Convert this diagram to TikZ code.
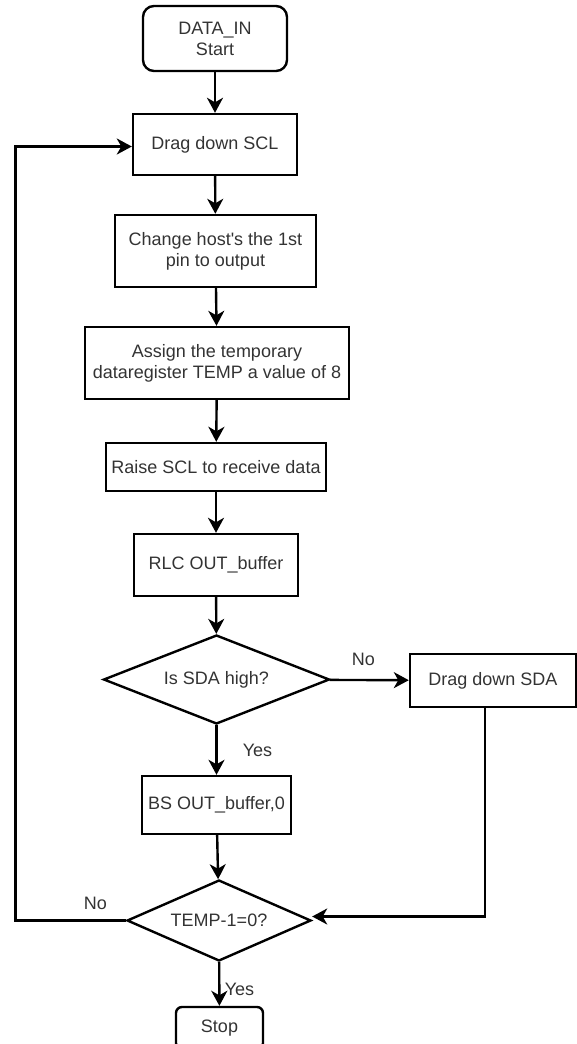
\documentclass[tikz,border=0pt]{standalone}
\usepackage{fontspec}
\setmainfont{Liberation Sans}
\usetikzlibrary{arrows.meta,shapes.geometric}
\definecolor{txt}{HTML}{333333}
\tikzset{
  flow/.style={-{Stealth[length=15pt, width=16pt, inset=4.5pt]}, line width=2.4pt},
  stepbox/.style={draw, line width=2.4pt, align=center, text=txt, inner sep=2pt,
    font=\fontsize{18}{21}\selectfont},
  termbox/.style={stepbox, rounded corners=11pt},
  decide/.style={stepbox, diamond, inner sep=0pt},
  lab/.style={text=txt, font=\fontsize{18}{21}\selectfont},
}
\begin{document}
\begin{tikzpicture}[x=1pt,y=-1pt]
\useasboundingbox (0,0) rectangle (577,1044);

% ============ main column ===============
\node[termbox, minimum width=144pt, minimum height=65pt] (start) at (215,38.5) {DATA\_IN\\Start};
\node[stepbox, minimum width=164pt, minimum height=61pt] (scl) at (215,144.5) {Drag down SCL};
\node[stepbox, minimum width=201pt, minimum height=72pt] (pin) at (215.5,251) {Change host\textquotesingle s the 1st\\pin to output};
\node[stepbox, minimum width=264pt, minimum height=72pt] (temp) at (217,363) {Assign the temporary\\dataregister TEMP a value of 8};
\node[stepbox, minimum width=220pt, minimum height=48pt] (raise) at (216,467) {Raise SCL to receive data};
\node[stepbox, minimum width=164pt, minimum height=62pt] (rlc) at (216,565) {RLC OUT\_buffer};
\node[decide, aspect=2.54, minimum width=226pt, minimum height=89pt] (sda) at (216.5,679.5) {Is SDA high?};
\node[stepbox, minimum width=149pt, minimum height=58pt] (bs) at (216.5,805) {BS OUT\_buffer,0};
\node[decide, aspect=2.27, minimum width=184pt, minimum height=81pt] (cnt) at (219,920.5) {TEMP-1=0?};
\node[termbox, rounded corners=6pt, minimum width=87pt, minimum height=42pt] (stop) at (219.5,1028) {Stop};

% ============ side branch ===============
\node[stepbox, minimum width=166pt, minimum height=53pt] (sdalow) at (493,680.5) {Drag down SDA};
\coordinate (back) at (15.5,0);

% ============ connectors ===============
\draw[flow] (start) -- (scl);
\draw[flow] (scl) -- (pin);
\draw[flow] (pin) -- (temp);
\draw[flow] (temp) -- (raise);
\draw[flow] (raise) -- (rlc);
\draw[flow] (rlc) -- (sda);
\draw[flow] (sda) -- (bs);
\draw[flow] (sda) -- (sdalow);
\draw[flow] (bs) -- (cnt);
\draw[flow] (cnt) -- (stop);
\draw[flow] ([xshift=-8pt]sdalow.south) |- ([yshift=4pt]cnt.east);
\draw[flow] (cnt.west) -- (cnt.west -| back) |- ([yshift=-2pt]scl.west);

% labels
\node[lab] (noside) at (363.5,659) {No};
\node[lab] (yesbs) at (257.5,750) {Yes};
\node[lab] (noloop) at (95.5,903) {No};
\node[lab] (yesstop) at (239.5,989) {Yes};

\end{tikzpicture}
\end{document}
